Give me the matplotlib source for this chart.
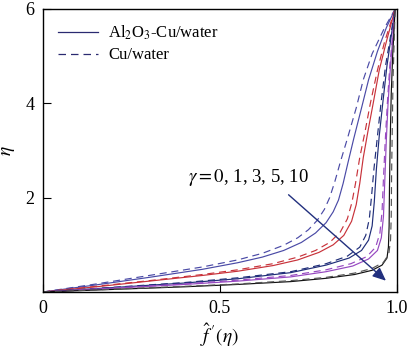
import matplotlib
matplotlib.use('Agg')
import matplotlib.pyplot as plt

plt.rcParams['font.family'] = ['Liberation Serif', 'DejaVu Serif']
plt.rcParams['mathtext.fontset'] = 'stix'

# Profiles: f'(eta) on x, eta on y
# gamma = 0
fp_g0_cu = [0, 0.15, 0.3, 0.45, 0.55, 0.62, 0.68, 0.72, 0.75, 0.775, 0.795, 0.81, 0.825, 0.84, 0.86, 0.885, 0.905, 0.93, 0.965, 0.995]
eta_g0_cu = [0, 0.17, 0.35, 0.53, 0.68, 0.82, 0.99, 1.15, 1.32, 1.52, 1.75, 2.0, 2.35, 2.75, 3.25, 3.9, 4.5, 5.05, 5.6, 6.0]
fp_g0_al = [0, 0.15, 0.3, 0.45, 0.55, 0.62, 0.68, 0.73, 0.77, 0.80, 0.82, 0.835, 0.848, 0.862, 0.878, 0.9, 0.92, 0.945, 0.97, 0.995]
eta_g0_al = [0, 0.15, 0.31, 0.48, 0.62, 0.74, 0.88, 1.05, 1.25, 1.47, 1.7, 1.95, 2.3, 2.75, 3.25, 3.9, 4.5, 5.1, 5.6, 6.0]
# gamma = 1
fp_g1_cu = [0, 0.15, 0.3, 0.45, 0.55, 0.65, 0.72, 0.77, 0.81, 0.84, 0.86, 0.873, 0.883, 0.895, 0.91, 0.925, 0.945, 0.965, 0.995]
eta_g1_cu = [0, 0.12, 0.24, 0.37, 0.47, 0.6, 0.74, 0.88, 1.05, 1.27, 1.55, 1.9, 2.3, 2.85, 3.4, 4.0, 4.7, 5.3, 6.0]
fp_g1_al = [0, 0.15, 0.3, 0.45, 0.55, 0.65, 0.72, 0.78, 0.82, 0.85, 0.872, 0.885, 0.895, 0.905, 0.918, 0.933, 0.95, 0.97, 0.995]
eta_g1_al = [0, 0.11, 0.23, 0.35, 0.44, 0.56, 0.68, 0.84, 1.0, 1.2, 1.5, 1.85, 2.3, 2.85, 3.4, 4.0, 4.7, 5.3, 6.0]
# gamma = 3
fp_g3_cu = [0, 0.2, 0.4, 0.55, 0.7, 0.8, 0.86, 0.895, 0.912, 0.922, 0.928, 0.935, 0.945, 0.955, 0.968, 0.995]
eta_g3_cu = [0, 0.1, 0.2, 0.3, 0.43, 0.6, 0.76, 0.95, 1.2, 1.55, 2.0, 2.6, 3.3, 4.0, 4.8, 6.0]
fp_g3_al = [0, 0.2, 0.4, 0.55, 0.7, 0.8, 0.865, 0.9, 0.92, 0.93, 0.936, 0.942, 0.95, 0.96, 0.972, 0.995]
eta_g3_al = [0, 0.095, 0.19, 0.28, 0.41, 0.57, 0.72, 0.88, 1.1, 1.4, 1.9, 2.6, 3.3, 4.0, 4.8, 6.0]
# gamma = 5
fp_g5_cu = [0, 0.2, 0.4, 0.55, 0.7, 0.8, 0.87, 0.915, 0.94, 0.952, 0.958, 0.962, 0.967, 0.973, 0.98, 0.995]
eta_g5_cu = [0, 0.085, 0.17, 0.25, 0.35, 0.47, 0.6, 0.75, 0.95, 1.25, 1.7, 2.4, 3.2, 4.0, 4.8, 6.0]
fp_g5_al = [0, 0.2, 0.4, 0.55, 0.7, 0.8, 0.875, 0.92, 0.945, 0.956, 0.962, 0.966, 0.97, 0.975, 0.982, 0.995]
eta_g5_al = [0, 0.08, 0.16, 0.23, 0.32, 0.43, 0.55, 0.7, 0.88, 1.15, 1.6, 2.4, 3.2, 4.0, 4.8, 6.0]
# gamma = 10
fp_g10_cu = [0, 0.2, 0.4, 0.55, 0.7, 0.8, 0.88, 0.93, 0.962, 0.977, 0.982, 0.984, 0.985, 0.987, 0.989, 0.995]
eta_g10_cu = [0, 0.06, 0.12, 0.17, 0.24, 0.31, 0.4, 0.5, 0.63, 0.8, 1.1, 1.6, 2.5, 3.5, 4.5, 6.0]
fp_g10_al = [0, 0.2, 0.4, 0.55, 0.7, 0.8, 0.88, 0.93, 0.958, 0.972, 0.976, 0.978, 0.979, 0.981, 0.984, 0.988, 0.995]
eta_g10_al = [0, 0.055, 0.11, 0.16, 0.22, 0.29, 0.37, 0.46, 0.57, 0.72, 0.95, 1.4, 2.2, 3.2, 4.2, 5.0, 6.0]

curves = [
    (fp_g0_al, eta_g0_al, fp_g0_cu, eta_g0_cu, '#4a4aa6', '#4a4aa6'),
    (fp_g1_al, eta_g1_al, fp_g1_cu, eta_g1_cu, '#c8323a', '#c8323a'),
    (fp_g3_al, eta_g3_al, fp_g3_cu, eta_g3_cu, '#1f2d78', '#1f2d78'),
    (fp_g5_al, eta_g5_al, fp_g5_cu, eta_g5_cu, '#9648c0', '#9648c0'),
    (fp_g10_al, eta_g10_al, fp_g10_cu, eta_g10_cu, '#111111', '#555555'),
]

fig = plt.figure(figsize=(4.2, 3.52), dpi=100)
ax = fig.add_axes([0.1024, 0.1705, 0.8426, 0.804])

for fa, ea, fc, ec, col, colc in curves:
    ax.plot(fa, ea, color=col, lw=0.85)
    ax.plot(fc, ec, color=colc, lw=0.85, ls=(0, (6, 4)))

# legend entries
ax.plot([], [], color='#2a2a70', lw=0.9, label=r'Al$_2$O$_3$-Cu/water')
ax.plot([], [], color='#2a2a70', lw=0.9, ls=(0, (6, 4)), label='Cu/water')
ax.legend(loc='upper left', frameon=False, fontsize=12, handlelength=2.4,
          borderaxespad=0.3, labelspacing=0.3, handletextpad=0.6, borderpad=0.6)

ax.annotate('', xy=(0.975, 0.2), xytext=(0.688, 2.1),
            arrowprops=dict(arrowstyle='-|>,head_length=0.8,head_width=0.35',
                            color='#22307e', lw=1.0))
ax.text(0.581, 2.42, r'$\gamma = 0$, 1, 3, 5, 10', ha='center', va='center', fontsize=13.5)

ax.set_xlim(0, 1.0)
ax.set_ylim(0, 6)
ax.set_xticks([0, 0.5, 1.0])
ax.set_xticklabels(['0', '0.5', '1.0'])
ax.set_yticks([2, 4, 6])
ax.tick_params(direction='in', length=6, labelsize=13, pad=6, top=False, right=False)
ax.set_xlabel(r"$\hat{f}\,'(\eta)$", fontsize=14, labelpad=3)
ax.set_ylabel(r'$\eta$', fontsize=14, labelpad=6)
for s in ax.spines.values():
    s.set_linewidth(1.0)

fig.savefig('out.png', dpi=100)
